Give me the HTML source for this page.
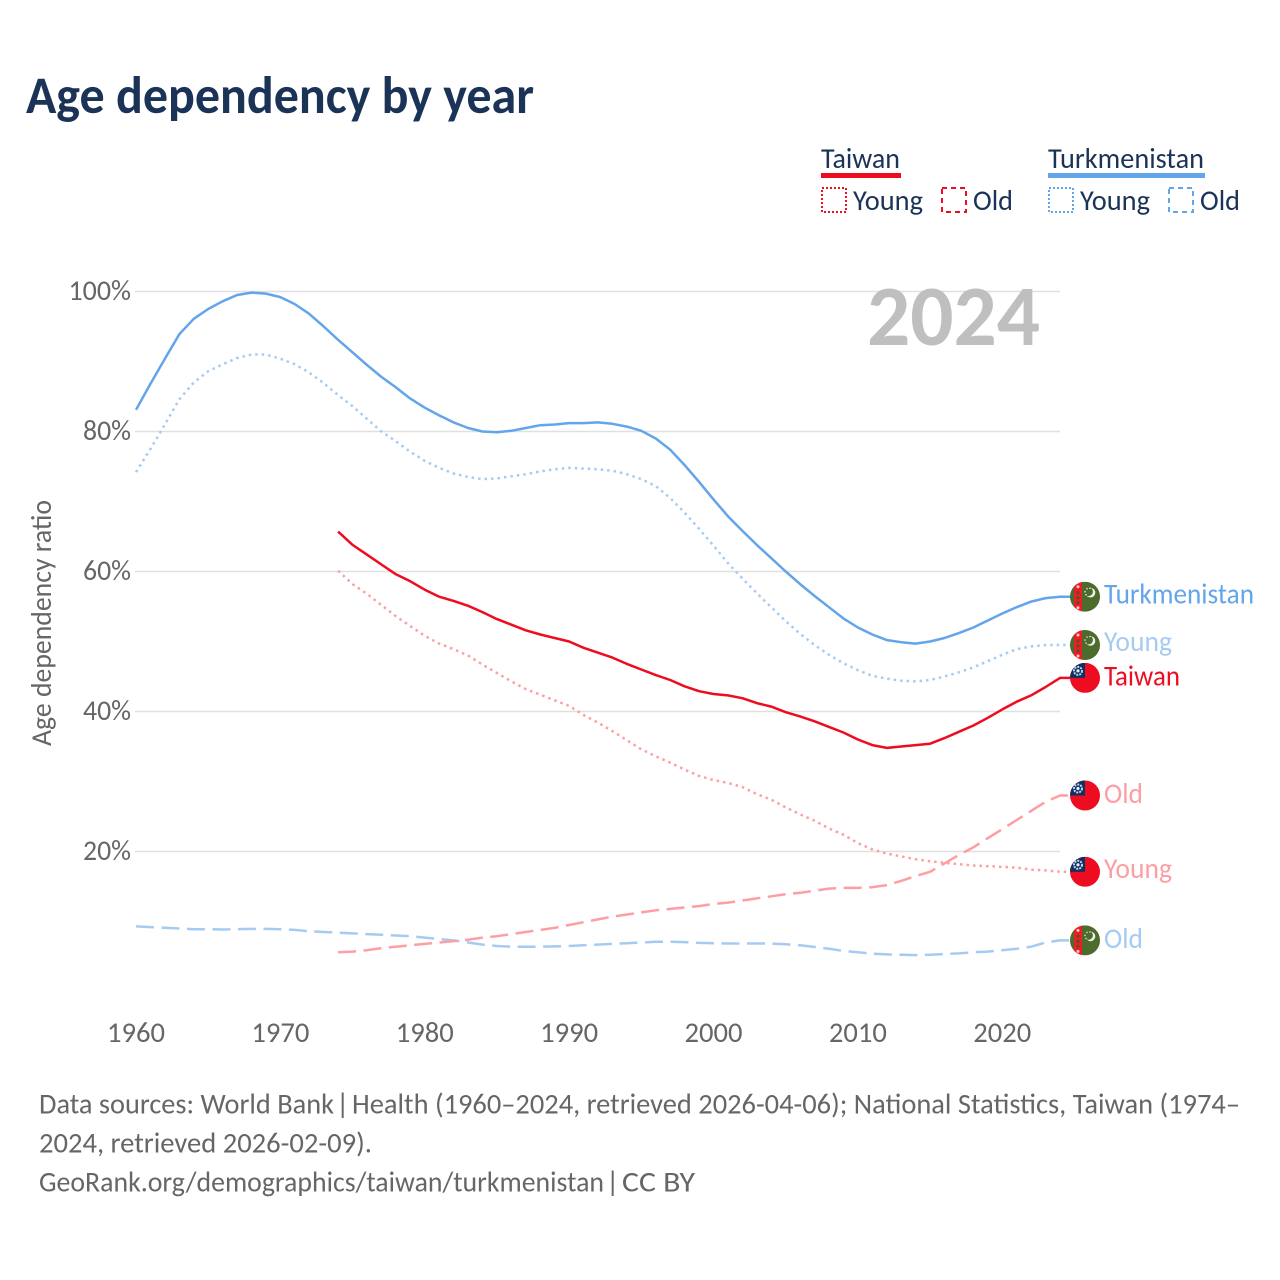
<!DOCTYPE html>
<html lang="en">
<head>
<meta charset="utf-8">
<title>Age dependency by year</title>
<style>
html,body{margin:0;padding:0;background:#fff}
svg{display:block}
text{font-family:"Carlito","Lato","Liberation Sans",sans-serif}
.leg{font-size:29px;fill:#1a3357}
.foot{font-size:29px;fill:#666}
</style>
</head>
<body>
<svg id="chart" xmlns="http://www.w3.org/2000/svg" width="1280" height="1280" viewBox="0 0 1280 1280">
<rect width="1280" height="1280" fill="#fff"/>
<text x="26" y="113" font-size="53" font-weight="700" fill="#1a3357" textLength="508" lengthAdjust="spacingAndGlyphs">Age dependency by year</text>

<g>
  <text class="leg" x="821" y="168" textLength="79" lengthAdjust="spacingAndGlyphs">Taiwan</text>
  <rect x="821" y="173" width="80" height="5" fill="#ee0c20"/>
  <rect x="822" y="188" width="24" height="24" fill="none" stroke="#ee0c20" stroke-width="2" stroke-dasharray="2 2"/>
  <text class="leg" x="853" y="210" textLength="70" lengthAdjust="spacingAndGlyphs">Young</text>
  <rect x="942" y="188" width="24" height="24" fill="none" stroke="#ee0c20" stroke-width="2" stroke-dasharray="5 4"/>
  <text class="leg" x="973" y="210" textLength="40" lengthAdjust="spacingAndGlyphs">Old</text>

  <text class="leg" x="1048" y="168" textLength="156" lengthAdjust="spacingAndGlyphs">Turkmenistan</text>
  <rect x="1048" y="173" width="157" height="5" fill="#62a5ea"/>
  <rect x="1049" y="188" width="24" height="24" fill="none" stroke="#62a5ea" stroke-width="2" stroke-dasharray="2 2"/>
  <text class="leg" x="1080" y="210" textLength="70" lengthAdjust="spacingAndGlyphs">Young</text>
  <rect x="1169" y="188" width="24" height="24" fill="none" stroke="#62a5ea" stroke-width="2" stroke-dasharray="5 4"/>
  <text class="leg" x="1200" y="210" textLength="40" lengthAdjust="spacingAndGlyphs">Old</text>
</g>

<g id="grid"></g>
<text x="867" y="345" font-size="86" font-weight="700" fill="#bfbfbf" textLength="173" lengthAdjust="spacingAndGlyphs">2024</text>
<g id="y-ticks"></g>
<g id="x-ticks"></g>
<text transform="translate(51,746) rotate(-90)" x="0" y="0" font-size="29" fill="#666" textLength="246" lengthAdjust="spacingAndGlyphs">Age dependency ratio</text>
<g id="series"></g>
<g id="ends"></g>

<g>
  <text class="foot" x="39" y="1113.5" textLength="295" lengthAdjust="spacingAndGlyphs">Data sources: World Bank</text>
  <text class="foot" x="336" y="1113.5">|</text>
  <text class="foot" x="352" y="1113.5" textLength="888" lengthAdjust="spacingAndGlyphs">Health (1960–2024, retrieved 2026-04-06); National Statistics, Taiwan (1974–</text>
  <text class="foot" x="39" y="1152.5" textLength="333" lengthAdjust="spacingAndGlyphs">2024, retrieved 2026-02-09).</text>
  <text class="foot" x="39" y="1191.5" textLength="565" lengthAdjust="spacingAndGlyphs">GeoRank.org/demographics/taiwan/turkmenistan</text>
  <text class="foot" x="606" y="1191.5">|</text>
  <text class="foot" x="622" y="1191.5" textLength="73" lengthAdjust="spacingAndGlyphs">CC BY</text>
</g>
</svg>

<script>
const yTickValues = [20, 40, 60, 80, 100];
const xTickYears = [1960, 1970, 1980, 1990, 2000, 2010, 2020];
const turkmenistanFirstYear = 1960;
const taiwanFirstYear = 1974;

const turkmenistanTotal = [83.1,86.8,90.4,93.9,96.1,97.5,98.6,99.5,99.85,99.7,99.2,98.2,96.8,95,93.1,91.3,89.5,87.8,86.3,84.7,83.4,82.3,81.3,80.5,80,79.9,80.1,80.5,80.9,81,81.2,81.2,81.3,81.1,80.7,80.1,79,77.4,75.2,72.8,70.3,67.9,65.8,63.8,61.9,60,58.2,56.5,54.9,53.3,52,51,50.2,49.9,49.7,50,50.5,51.2,52,53,54,54.9,55.7,56.2,56.4];
const turkmenistanYoung = [74.2,77.5,81,84.6,87,88.6,89.6,90.5,91,91,90.4,89.6,88.4,86.9,85.2,83.6,81.8,80,78.6,77.1,75.8,74.8,74,73.5,73.2,73.3,73.6,73.9,74.3,74.6,74.8,74.7,74.6,74.4,73.9,73.2,72.2,70.5,68.4,66.1,63.7,61.2,59,56.9,54.9,52.9,51.1,49.5,48.1,46.9,45.9,45.1,44.7,44.4,44.3,44.5,45,45.6,46.3,47.2,48.1,48.9,49.3,49.5,49.5];
const turkmenistanOld = [9.3,9.2,9.1,9,8.9,8.9,8.85,8.9,8.95,8.95,8.9,8.8,8.6,8.5,8.4,8.3,8.2,8.1,8,7.9,7.7,7.5,7.3,7,6.7,6.5,6.4,6.4,6.4,6.45,6.5,6.6,6.7,6.8,6.9,7,7.1,7.1,7.05,6.95,6.9,6.85,6.85,6.85,6.85,6.75,6.6,6.35,6.1,5.8,5.6,5.4,5.3,5.25,5.2,5.25,5.35,5.45,5.6,5.7,5.9,6.1,6.4,7,7.3];
const taiwanTotal = [65.7,63.8,62.4,61,59.6,58.6,57.4,56.4,55.8,55.1,54.2,53.2,52.4,51.6,51,50.5,50,49.1,48.4,47.7,46.8,46,45.2,44.5,43.6,42.9,42.5,42.3,41.9,41.2,40.7,39.9,39.3,38.6,37.8,37,36,35.2,34.8,35,35.2,35.4,36.2,37.1,38,39.1,40.3,41.4,42.3,43.5,44.8];
const taiwanYoung = [60.1,58.2,56.8,55.2,53.6,52.2,50.8,49.7,48.9,48,46.7,45.5,44.3,43.2,42.4,41.6,40.8,39.5,38.4,37.2,35.9,34.6,33.6,32.7,31.7,30.8,30.2,29.8,29.2,28.2,27.4,26.3,25.3,24.4,23.3,22.4,21.2,20.3,19.7,19.3,18.9,18.6,18.4,18.2,18,17.9,17.8,17.7,17.4,17.3,17.1];
const taiwanOld = [5.6,5.7,5.9,6.2,6.4,6.6,6.8,7,7.2,7.4,7.7,7.9,8.2,8.5,8.8,9.1,9.5,9.9,10.3,10.7,11,11.3,11.6,11.8,12,12.2,12.5,12.7,13,13.3,13.6,13.9,14.1,14.4,14.7,14.8,14.8,14.9,15.2,15.8,16.5,17.1,18.3,19.5,20.6,21.9,23.2,24.5,25.8,27.1,28];

const NS = 'http://www.w3.org/2000/svg';
const xScale = year => 136 + (year - 1960) * (1060 - 136) / 64;
const yScale = value => 991.5 - 7 * value;
const FLAG_X = 1085;

function make(tag, attrs, parent) {
  const el = document.createElementNS(NS, tag);
  for (const k in attrs) el.setAttribute(k, attrs[k]);
  parent.appendChild(el);
  return el;
}

const gridGroup = document.getElementById('grid');
const yTickGroup = document.getElementById('y-ticks');
yTickValues.forEach(v => {
  const line = make('line', {x1: 135, x2: 1060, y1: yScale(v), y2: yScale(v), stroke: '#e0e0e0', 'stroke-width': 1.5}, gridGroup);
  
  
  const label = String(v) + '%';
  const t = make('text', {x: 131, y: yScale(v) + 8.5, 'text-anchor': 'end', 'font-size': 29, fill: '#666',
    textLength: (label.length - 1) * 14.5 + 19, lengthAdjust: 'spacingAndGlyphs'}, yTickGroup);
  t.textContent = label;
  
  
});

const xTickGroup = document.getElementById('x-ticks');
xTickYears.forEach(year => {
  const t = make('text', {x: xScale(year), y: 1042, 'text-anchor': 'middle', 'font-size': 29, fill: '#666',
    textLength: 58, lengthAdjust: 'spacingAndGlyphs'}, xTickGroup);
  t.textContent = String(year);
  
  
});

const seriesGroup = document.getElementById('series');
function drawLine(name, values, firstYear, color, dash) {
  const pts = values.map((v, i) => xScale(firstYear + i).toFixed(1) + ',' + yScale(v).toFixed(1));
  pts.push(FLAG_X + ',' + yScale(values[values.length - 1]).toFixed(1));
  const attrs = {d: 'M' + pts.join('L'), fill: 'none', stroke: color, 'stroke-width': 2.5, 'stroke-linejoin': 'round'};
  if (dash) attrs['stroke-dasharray'] = dash;
  const p = make('path', attrs, seriesGroup);
  
  
}
drawLine('line-turkmenistan-old', turkmenistanOld, turkmenistanFirstYear, '#a6cbf2', '18 7.5');
drawLine('line-taiwan-old', taiwanOld, taiwanFirstYear, '#fd9ea3', '18 7.5');
drawLine('line-taiwan-young', taiwanYoung, taiwanFirstYear, '#fd9ea3', '2.5 4');
drawLine('line-turkmenistan-young', turkmenistanYoung, turkmenistanFirstYear, '#a6cbf2', '2.5 4');
drawLine('line-turkmenistan-total', turkmenistanTotal, turkmenistanFirstYear, '#62a5ea', null);
drawLine('line-taiwan-total', taiwanTotal, taiwanFirstYear, '#ee0c20', null);

const endsGroup = document.getElementById('ends');
const defs = make('defs', {}, endsGroup);
let clipCount = 0;

function drawFlag(kind, cy, name) {
  const id = 'flag-clip-' + (clipCount++);
  const clip = make('clipPath', {id: id}, defs);
  make('circle', {cx: FLAG_X, cy: cy, r: 15}, clip);
  const g = make('g', {'clip-path': 'url(#' + id + ')'}, endsGroup);
  
  
  const x0 = FLAG_X - 15, y0 = cy - 15;
  if (kind === 'taiwan') {
    make('rect', {x: x0, y: y0, width: 30, height: 30, fill: '#ee0c20'}, g);
    make('rect', {x: x0, y: y0, width: 15, height: 15, fill: '#12305f'}, g);
    make('circle', {cx: x0 + 8, cy: y0 + 8, r: 4, fill: 'none', stroke: '#bcd6f5', 'stroke-width': 2, 'stroke-dasharray': '2 1'}, g);
    make('circle', {cx: x0 + 8, cy: y0 + 8, r: 1.6, fill: '#e6effb'}, g);
  } else {
    make('rect', {x: x0, y: y0, width: 30, height: 30, fill: '#4d6b2c'}, g);
    make('rect', {x: x0 + 4, y: y0, width: 8, height: 30, fill: '#ee1c25'}, g);
    [5, 11, 16, 21, 26].forEach(dy => {
      make('circle', {cx: x0 + 8, cy: y0 + dy, r: 1.5, fill: dy === 5 || dy === 26 ? '#f6c8c8' : '#3f5a24'}, g);
    });
    make('circle', {cx: x0 + 20.5, cy: y0 + 11, r: 4.8, fill: '#eef2e6'}, g);
    make('circle', {cx: x0 + 18.5, cy: y0 + 10, r: 4.4, fill: '#4d6b2c'}, g);
    [[17, 7], [15, 10], [16, 13], [20, 6.5]].forEach(s => {
      make('circle', {cx: x0 + s[0], cy: y0 + s[1], r: 0.8, fill: '#dfe6cf'}, g);
    });
  }
}

function drawEnd(flagKind, values, text, color, width, labelOffset, name) {
  const cy = yScale(values[values.length - 1]);
  drawFlag(flagKind, cy, name + '-flag');
  const t = make('text', {x: 1104, y: cy + labelOffset, 'font-size': 29, fill: color, textLength: width, lengthAdjust: 'spacingAndGlyphs'}, endsGroup);
  t.textContent = text;
  
  
}
drawEnd('turkmenistan', turkmenistanTotal, 'Turkmenistan', '#62a5ea', 150, 6.8, 'end-turkmenistan-total');
drawEnd('turkmenistan', turkmenistanYoung, 'Young', '#a6cbf2', 68, 6, 'end-turkmenistan-young');
drawEnd('taiwan', taiwanTotal, 'Taiwan', '#ee0c20', 76, 7.6, 'end-taiwan-total');
drawEnd('taiwan', taiwanOld, 'Old', '#fd9ea3', 39, 7.6, 'end-taiwan-old');
drawEnd('taiwan', taiwanYoung, 'Young', '#fd9ea3', 68, 6, 'end-taiwan-young');
drawEnd('turkmenistan', turkmenistanOld, 'Old', '#a6cbf2', 39, 7.6, 'end-turkmenistan-old');
</script>
</body>
</html>
